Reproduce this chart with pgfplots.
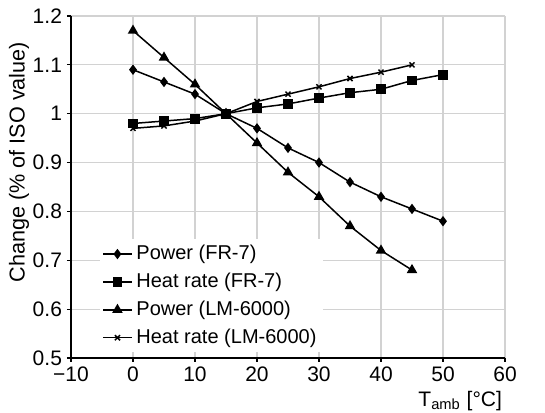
\documentclass[border=0pt]{standalone}
\usepackage{fontspec}
\setmainfont{Liberation Sans}
\usepackage{pgfplots}
\pgfplotsset{compat=1.18}
\begin{document}
\fontsize{10}{12}\selectfont
\begin{tikzpicture}
\begin{axis}[
    width=217pt, height=171pt, scale only axis,
    xmin=-10, xmax=60, ymin=0.5, ymax=1.2,
    xtick={-10,0,...,60}, ytick={0.5,0.6,...,1.2},
    xticklabels={−10,0,10,20,30,40,50,60},
    yticklabels={0.5,0.6,0.7,0.8,0.9,1,1.1,1.2},
    axis lines=left, axis line style={-, black, line width=0.6pt},
    tick align=outside, tick style={black, line width=0.6pt}, major tick length=2pt,
    grid=major, major grid style={gray!35, line width=0.6pt},
    tick label style={font=\fontsize{10.5}{12}\selectfont},
    xticklabel style={yshift=1pt},
    yticklabel style={xshift=1pt},
    xlabel={T\textsubscript{amb} [°C]},
    xlabel style={at={(rel axis cs:1,0)}, anchor=north east, yshift=-13pt, xshift=2pt,
        font=\fontsize{10.5}{12}\selectfont},
    ylabel={Change (\% of ISO value)},
    ylabel style={at={(ticklabel cs:0.573)}, yshift=-5pt, font=\fontsize{10.8}{12}\selectfont},
    legend style={at={(0.067,0.015)}, anchor=south west, draw=none, fill=white,
        font=\fontsize{10}{12}\selectfont, row sep=1.2pt, inner sep=1pt,
        cells={anchor=west}},
    legend cell align=left,
    legend image code/.code={\draw[#1, mark=none] (0cm,0cm) -- (0.5cm,0cm);
        \draw[#1] plot[only marks] coordinates {(0.25cm,0cm)};},
    every axis plot/.append style={black, line width=0.75pt, mark options={solid}},
]
\addplot[mark=diamond*, mark size=2pt] coordinates {
(0,1.09) (5,1.065) (10,1.04) (15,1.0) (20,0.97) (25,0.93) (30,0.90) (35,0.86) (40,0.83) (45,0.805) (50,0.78)};
\addlegendentry{Power (FR-7)}
\addplot[mark=square*, mark size=2.1pt] coordinates {
(0,0.98) (5,0.985) (10,0.99) (15,1.0) (20,1.012) (25,1.02) (30,1.032) (35,1.043) (40,1.05) (45,1.068) (50,1.08)};
\addlegendentry{Heat rate (FR-7)}
\addplot[mark=triangle*, mark size=2.3pt] coordinates {
(0,1.17) (5,1.115) (10,1.06) (15,1.0) (20,0.94) (25,0.88) (30,0.83) (35,0.77) (40,0.72) (45,0.68)};
\addlegendentry{Power (LM-6000)}
\addplot[mark=x, mark size=1.8pt] coordinates {
(0,0.97) (5,0.975) (10,0.985) (15,1.0) (20,1.025) (25,1.04) (30,1.055) (35,1.072) (40,1.085) (45,1.10)};
\addlegendentry{Heat rate (LM-6000)}
\end{axis}
\pgfresetboundingbox
\path ([shift={(-35.5pt,-27.5pt)}]current axis.south west) rectangle ([shift={(20pt,8pt)}]current axis.north east);
\end{tikzpicture}
\end{document}
